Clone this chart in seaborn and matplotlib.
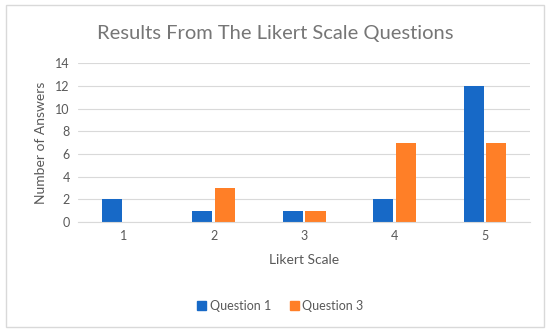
import numpy as np
import pandas as pd
import matplotlib
import matplotlib.pyplot as plt
import seaborn as sns
from matplotlib.patches import Rectangle

# data
scale = ['1', '2', '3', '4', '5']
question1 = [2, 1, 1, 2, 12]
question3 = [0, 3, 1, 7, 7]

df = pd.DataFrame({
    'Likert Scale': scale * 2,
    'Answers': question1 + question3,
    'Question': ['Question 1'] * 5 + ['Question 3'] * 5,
})

sns.set_style('white')
plt.rcParams['font.family'] = ['Lato', 'DejaVu Sans']

gray = '#595959'
colors = ['#1769C7', '#FF7F27']
fig = plt.figure(figsize=(5.5, 3.34), dpi=100)
ax = fig.add_axes([0.142, 0.335, 0.822, 0.476])

sns.barplot(data=df, x='Likert Scale', y='Answers', hue='Question',
            palette=colors, width=0.5, saturation=1, gap=0.11,
            linewidth=0, ax=ax, legend=False)

ax.set_ylim(0, 14)
ax.set_yticks(range(0, 15, 2))
ax.set_xlim(-0.5, 4.5)
ax.grid(axis='y', color='#D9D9D9', linewidth=0.8)
ax.set_axisbelow(True)
for s in ['top', 'right', 'left']:
    ax.spines[s].set_visible(False)
ax.spines['bottom'].set_color('#D9D9D9')
ax.tick_params(axis='both', length=0, labelsize=9, labelcolor=gray, pad=6)
ax.set_xlabel('Likert Scale', fontsize=10, color=gray, labelpad=8)
ax.set_ylabel('Number of Answers', fontsize=10, color=gray, labelpad=6)

fig.text(0.5, 0.9, 'Results From The Likert Scale Questions', ha='center',
         va='center', fontsize=14.5, color='#767676')

# legend
handles = [Rectangle((0, 0), 1, 1, color=c) for c in colors]
fig.legend(handles, ['Question 1', 'Question 3'], loc='center',
           bbox_to_anchor=(0.51, 0.085), ncol=2, frameon=False,
           fontsize=9, labelcolor=gray, handlelength=0.7, handleheight=0.7,
           handletextpad=0.3, columnspacing=1.5)

fig.patches.append(Rectangle((0.011, 0.02), 0.978, 0.965, transform=fig.transFigure,
                             fill=False, edgecolor='#D9D9D9', linewidth=1))

fig.savefig('out.png', dpi=100)
